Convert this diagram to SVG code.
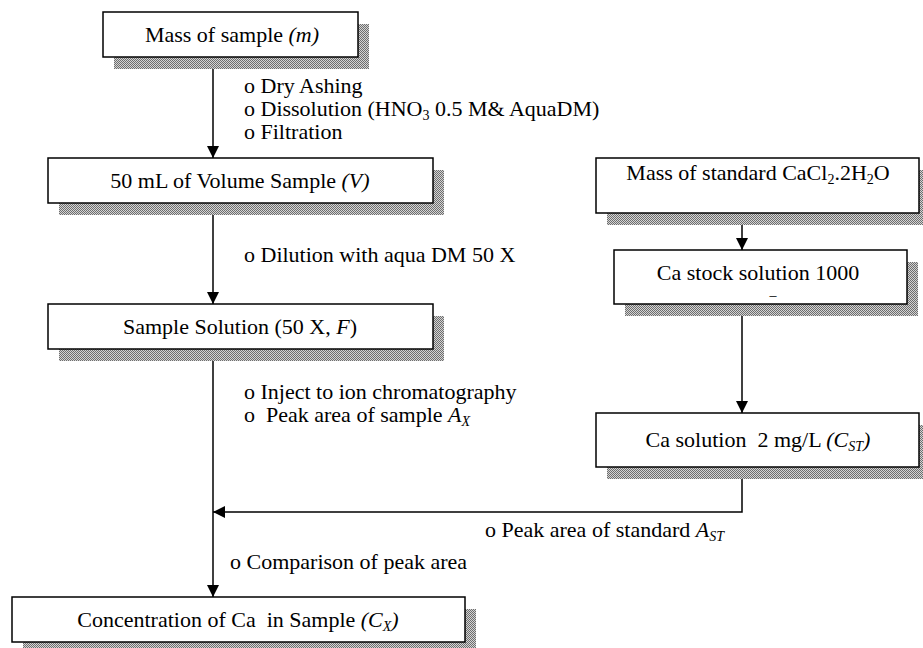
<svg xmlns="http://www.w3.org/2000/svg" width="923" height="648" viewBox="0 0 923 648">
<defs>
<pattern id="dots" width="2" height="2" patternUnits="userSpaceOnUse"><rect width="2" height="2" fill="#d4d4d4"/><rect width="1" height="1" fill="#6e6e6e"/><rect x="1" y="1" width="1" height="1" fill="#6e6e6e"/></pattern>
<marker id="ah" viewBox="0 0 10 10" refX="10" refY="5" markerWidth="12" markerHeight="12" markerUnits="userSpaceOnUse" orient="auto"><path d="M0,0 L10,5 L0,10 z" fill="#000"/></marker>
<style>
.sh{fill:url(#dots)}
.bx{fill:#fff;stroke:#000;stroke-width:1.5}
text{font-family:"Liberation Serif","Times New Roman",serif;font-size:22px;fill:#000}
.c{text-anchor:middle}
.i{font-style:italic}
.s{font-size:14px}
.ln{fill:none;stroke:#000;stroke-width:1.5}
</style>
</defs>
<rect width="923" height="648" fill="#fff"/>
<g id="connectors">
<line class="ln" x1="213" y1="57" x2="213" y2="158" marker-end="url(#ah)"/>
<line class="ln" x1="213" y1="203" x2="213" y2="304" marker-end="url(#ah)"/>
<line class="ln" x1="213" y1="349" x2="213" y2="597" marker-end="url(#ah)"/>
<line class="ln" x1="742" y1="213" x2="742" y2="250" marker-end="url(#ah)"/>
<line class="ln" x1="742" y1="304" x2="742" y2="413" marker-end="url(#ah)"/>
<polyline class="ln" points="742,467 742,512 213,512" marker-end="url(#ah)"/>
</g>
<g id="labels">
<text x="244" y="93">o Dry Ashing</text>
<text x="244" y="116">o Dissolution (HNO<tspan class="s" dy="4">3</tspan><tspan dy="-4"> 0.5 M&amp; AquaDM)</tspan></text>
<text x="244" y="139">o Filtration</text>
<text x="244" y="262">o Dilution with aqua DM 50 X</text>
<text x="244" y="399">o Inject to ion chromatography</text>
<text x="244" y="422" xml:space="preserve">o  Peak area of sample <tspan class="i">A</tspan><tspan class="i s" dy="4">X</tspan></text>
<text x="485" y="537">o Peak area of standard <tspan class="i">A</tspan><tspan class="i s" dy="4">ST</tspan></text>
<text x="230" y="569">o Comparison of peak area</text>
</g>
<g id="n1">
<rect class="sh" x="114" y="24" width="255" height="45"/>
<rect class="bx" x="103" y="12" width="255" height="45"/>
<text class="c" x="232" y="42">Mass of sample <tspan class="i">(m)</tspan></text>
</g>
<g id="n2">
<rect class="sh" x="59" y="170" width="385" height="45"/>
<rect class="bx" x="48" y="158" width="385" height="45"/>
<text class="c" x="240" y="188">50 mL of Volume Sample <tspan class="i">(V)</tspan></text>
</g>
<g id="n3">
<rect class="sh" x="59" y="316" width="385" height="45"/>
<rect class="bx" x="48" y="304" width="385" height="45"/>
<text class="c" x="240" y="334">Sample Solution (50 X, <tspan class="i">F</tspan>)</text>
</g>
<g id="r1">
<rect class="sh" x="607" y="170" width="323" height="55"/>
<rect class="bx" x="596" y="158" width="323" height="55"/>
<text class="c" x="758" y="180">Mass of standard CaCl<tspan class="s" dy="4">2</tspan><tspan dy="-4">.2H</tspan><tspan class="s" dy="4">2</tspan><tspan dy="-4">O</tspan></text>
</g>
<g id="r2">
<rect class="sh" x="625" y="262" width="293" height="54"/>
<rect class="bx" x="614" y="250" width="293" height="54"/>
<text class="c" x="758" y="280">Ca stock solution 1000</text>
<text class="c s" x="773" y="300">–</text>
</g>
<g id="r3">
<rect class="sh" x="607" y="425" width="323" height="54"/>
<rect class="bx" x="596" y="413" width="323" height="54"/>
<text class="c" x="758" y="447" xml:space="preserve">Ca solution  2 mg/L <tspan class="i">(C</tspan><tspan class="i s" dy="4">ST</tspan><tspan class="i" dy="-4">)</tspan></text>
</g>
<g id="n4">
<rect class="sh" x="23" y="609" width="453" height="45"/>
<rect class="bx" x="12" y="597" width="453" height="45"/>
<text class="c" x="238" y="627" xml:space="preserve">Concentration of Ca  in Sample <tspan class="i">(C</tspan><tspan class="i s" dy="4">X</tspan><tspan class="i" dy="-4">)</tspan></text>
</g>
</svg>
